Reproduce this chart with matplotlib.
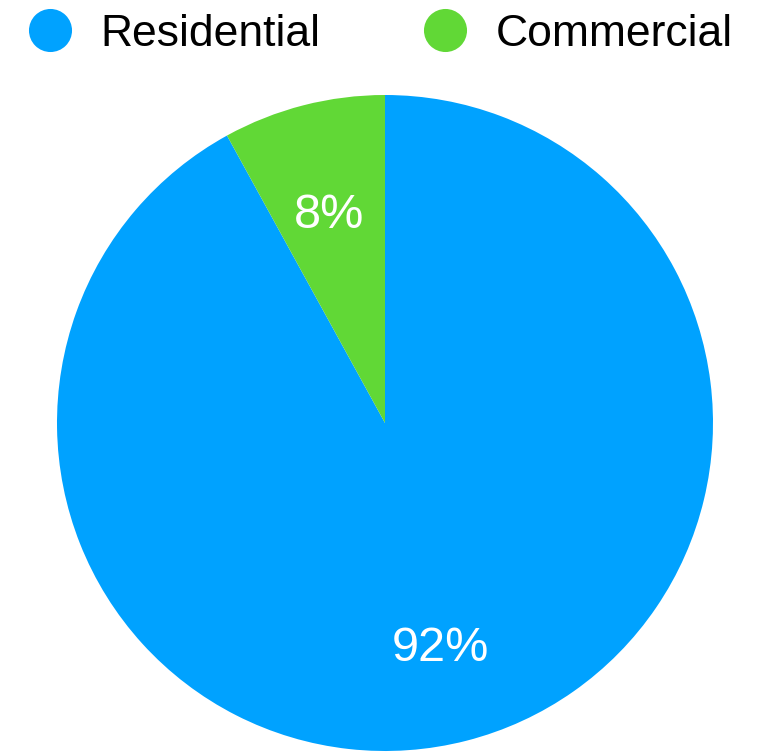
import matplotlib
matplotlib.use("Agg")
import matplotlib.pyplot as plt
from matplotlib.lines import Line2D

categories = ["Residential", "Commercial"]
values = [92, 8]
colors = ["#00A2FF", "#61D836"]

plt.rcParams['font.family'] = ['Liberation Sans', 'DejaVu Sans']

fig = plt.figure(figsize=(7.62, 7.52), dpi=100)
ax = fig.add_axes([57/762, 1/752, 656/762, 656/752])

wedges, texts, autotexts = ax.pie(
    values, colors=colors, startangle=90, counterclock=False,
    autopct='%.0f%%', pctdistance=0.68, radius=1.0,
    wedgeprops=dict(linewidth=0),
    textprops=dict(color='white', fontsize=35))
for t in autotexts:
    x, y = t.get_position()
    t.set_position((x, y - 9/328))
ax.set_xlim(-1, 1)
ax.set_ylim(-1, 1)
ax.set_aspect('equal')
ax.axis('off')

handles = [Line2D([], [], marker='o', linestyle='', markersize=31,
                  markerfacecolor=c, markeredgewidth=0) for c in colors]
fig.legend(handles, categories, loc='upper left',
           bbox_to_anchor=(27.8/762, 1 - 14/752), ncol=2, frameon=False,
           fontsize=32, handlelength=1.0, handletextpad=0.626,
           columnspacing=2.32, borderpad=0, borderaxespad=0)

fig.savefig("out.png", dpi=100)
